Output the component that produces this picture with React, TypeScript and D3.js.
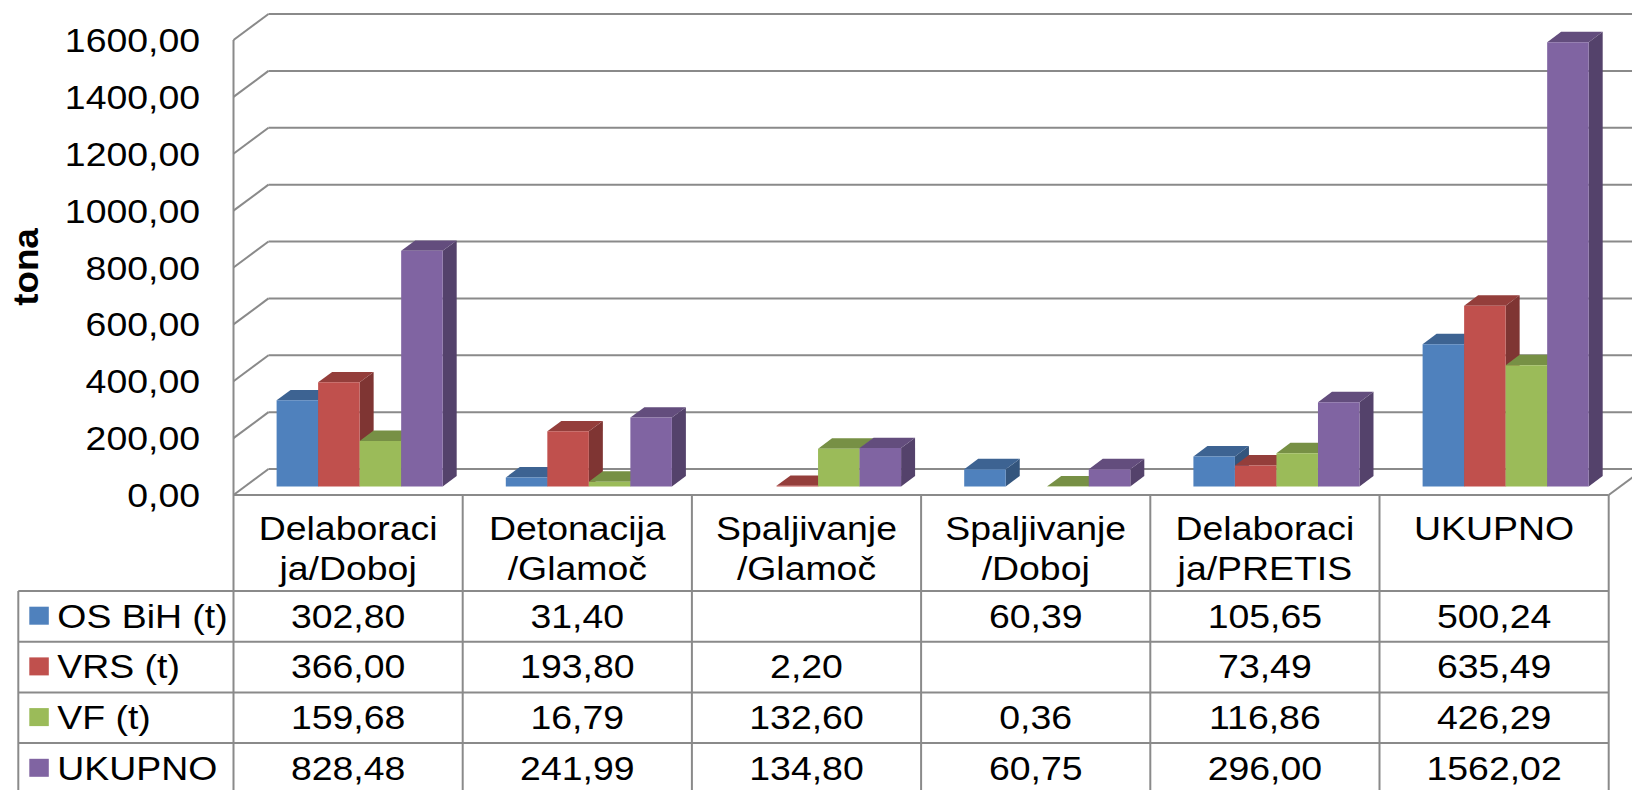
import React from "react";
import * as d3 from "d3";

// ---- data ----
const categories: string[][] = [
  ["Delaboraci", "ja/Doboj"],
  ["Detonacija", "/Glamoč"],
  ["Spaljivanje", "/Glamoč"],
  ["Spaljivanje", "/Doboj"],
  ["Delaboraci", "ja/PRETIS"],
  ["UKUPNO"],
];
const seriesNames = ["OS BiH (t)", "VRS (t)", "VF (t)", "UKUPNO"];
const osBih: (number | null)[] = [302.8, 31.4, null, 60.39, 105.65, 500.24];
const vrs: (number | null)[] = [366.0, 193.8, 2.2, null, 73.49, 635.49];
const vf: (number | null)[] = [159.68, 16.79, 132.6, 0.36, 116.86, 426.29];
const ukupno: (number | null)[] = [828.48, 241.99, 134.8, 60.75, 296.0, 1562.02];
const yTickValues = [0, 200, 400, 600, 800, 1000, 1200, 1400, 1600];
const axisTitle = "tona";
const colors = ["#4F81BD", "#C0504D", "#9BBB59", "#8064A2"];

const seriesValues = [osBih, vrs, vf, ukupno];

// ---- geometry ----
const W = 1632;
const H = 790;
const plotLeft = 233.5;
const plotRight = 1608.7;
const DX = 35;
const DY = -26;
const z0 = 0.33;
const z1 = 0.73;
const headerTop = 495;
const headerBottom = 591;
const rowH = 50.7;
const tableLeft = 18.3;
const gridColor = "#8a8a8a";
const font = "'Liberation Sans', Arial, sans-serif";
const SX = 1.1;

const fmt = d3
  .formatLocale({ decimal: ",", thousands: "", grouping: [3], currency: ["", ""] })
  .format(".2f");

export default function App() {
  const y = d3.scaleLinear().domain([0, 1600]).range([495, 40]);
  const xCat = d3
    .scaleBand<number>()
    .domain(d3.range(categories.length))
    .range([plotLeft, plotRight])
    .paddingInner(0)
    .paddingOuter(0);
  const xSer = d3
    .scaleBand<number>()
    .domain(d3.range(seriesNames.length))
    .range([0, xCat.bandwidth()])
    .paddingInner(0)
    .paddingOuter(0.76);

  const P = (x: number, v: number, z: number) => [x + z * DX, y(v) + z * DY];
  const poly = (pts: number[][]) => pts.map((p) => p.join(",")).join(" ");

  const shade = (c: string, k: number) => {
    const r = d3.rgb(c);
    return d3.rgb(r.r * k, r.g * k, r.b * k).formatHex();
  };

  const txt = (
    key: string,
    x: number,
    yy: number,
    s: string,
    anchor: "start" | "middle" | "end",
    extra: any = {}
  ) => (
    <text
      key={key}
      transform={`translate(${x},${yy}) scale(${SX},1)`}
      textAnchor={anchor}
      fontFamily={font}
      fontSize={34}
      fill="#000"
      {...extra}
    >
      {s}
    </text>
  );

  const bars: React.ReactNode[] = [];
  categories.forEach((_, ci) => {
    seriesValues.forEach((vals, si) => {
      const v = vals[ci];
      if (v === null || v === undefined) return;
      const x0 = (xCat(ci) as number) + (xSer(si) as number);
      const x1 = x0 + xSer.bandwidth();
      const c = colors[si];
      bars.push(
        <g key={`b${ci}-${si}`}>
          <polygon
            points={poly([P(x1, 0, z0), P(x1, 0, z1), P(x1, v, z1), P(x1, v, z0)])}
            fill={shade(c, 0.66)}
          />
          <polygon
            points={poly([P(x0, v, z0), P(x1, v, z0), P(x1, v, z1), P(x0, v, z1)])}
            fill={shade(c, 0.77)}
          />
          <polygon
            points={poly([P(x0, 0, z0), P(x1, 0, z0), P(x1, v, z0), P(x0, v, z0)])}
            fill={c}
          />
        </g>
      );
    });
  });

  const backRight = plotRight + DX;

  return (
    <svg
      width={W}
      height={H}
      style={{ position: "absolute", left: 0, top: 0, background: "#fff" }}
    >
      <rect x={0} y={0} width={W} height={H} fill="#fff" />
      {/* walls: gridlines */}
      {yTickValues.map((t) => (
        <g key={`g${t}`} stroke={gridColor} strokeWidth={2} fill="none">
          <line x1={plotLeft} y1={y(t)} x2={plotLeft + DX} y2={y(t) + DY} />
          <line x1={plotLeft + DX} y1={y(t) + DY} x2={backRight} y2={y(t) + DY} />
        </g>
      ))}
      {/* left wall front edge */}
      <line x1={plotLeft} y1={y(1600)} x2={plotLeft} y2={H} stroke={gridColor} strokeWidth={2} />
      {/* floor right edge */}
      <line
        x1={plotRight}
        y1={y(0)}
        x2={backRight}
        y2={y(0) + DY}
        stroke={gridColor}
        strokeWidth={2}
      />
      {bars}
      {/* table */}
      <g stroke={gridColor} strokeWidth={2} fill="none">
        <line x1={plotLeft} y1={headerTop} x2={plotRight} y2={headerTop} />
        <line x1={tableLeft} y1={headerBottom} x2={plotRight} y2={headerBottom} />
        {seriesNames.map((_, i) => (
          <line
            key={`r${i}`}
            x1={tableLeft}
            y1={headerBottom + (i + 1) * rowH}
            x2={plotRight}
            y2={headerBottom + (i + 1) * rowH}
          />
        ))}
        <line x1={tableLeft} y1={headerBottom} x2={tableLeft} y2={H} />
        {categories.map((_, ci) => (
          <line
            key={`c${ci}`}
            x1={(xCat(ci) as number) + xCat.bandwidth()}
            y1={headerTop}
            x2={(xCat(ci) as number) + xCat.bandwidth()}
            y2={H}
          />
        ))}
      </g>
      {/* category headers */}
      {categories.map((lines, ci) =>
        lines.map((l, li) =>
          txt(
            `h${ci}-${li}`,
            (xCat(ci) as number) + xCat.bandwidth() / 2,
            540 + li * 40,
            l,
            "middle"
          )
        )
      )}
      {/* legend rows */}
      {seriesNames.map((name, si) => {
        const top = headerBottom + si * rowH;
        return (
          <g key={`l${si}`}>
            <rect x={29.3} y={top + 15.7} width={19.5} height={18} fill={colors[si]} />
            {txt(`ln${si}`, 57.3, top + 36.5, name, "start")}
          </g>
        );
      })}
      {/* values */}
      {seriesValues.map((vals, si) =>
        vals.map((v, ci) =>
          v === null
            ? null
            : txt(
                `v${si}-${ci}`,
                (xCat(ci) as number) + xCat.bandwidth() / 2,
                headerBottom + si * rowH + 36.5,
                fmt(v),
                "middle"
              )
        )
      )}
      {/* y tick labels */}
      {yTickValues.map((t) => txt(`t${t}`, 200, y(t) + 12, fmt(t), "end"))}
      {/* axis title */}
      <text
        transform={`translate(38,267) rotate(-90) scale(1.05,1)`}
        textAnchor="middle"
        fontFamily={font}
        fontSize={35}
        fontWeight="bold"
        fill="#000"
      >
        {axisTitle}
      </text>
    </svg>
  );
}
